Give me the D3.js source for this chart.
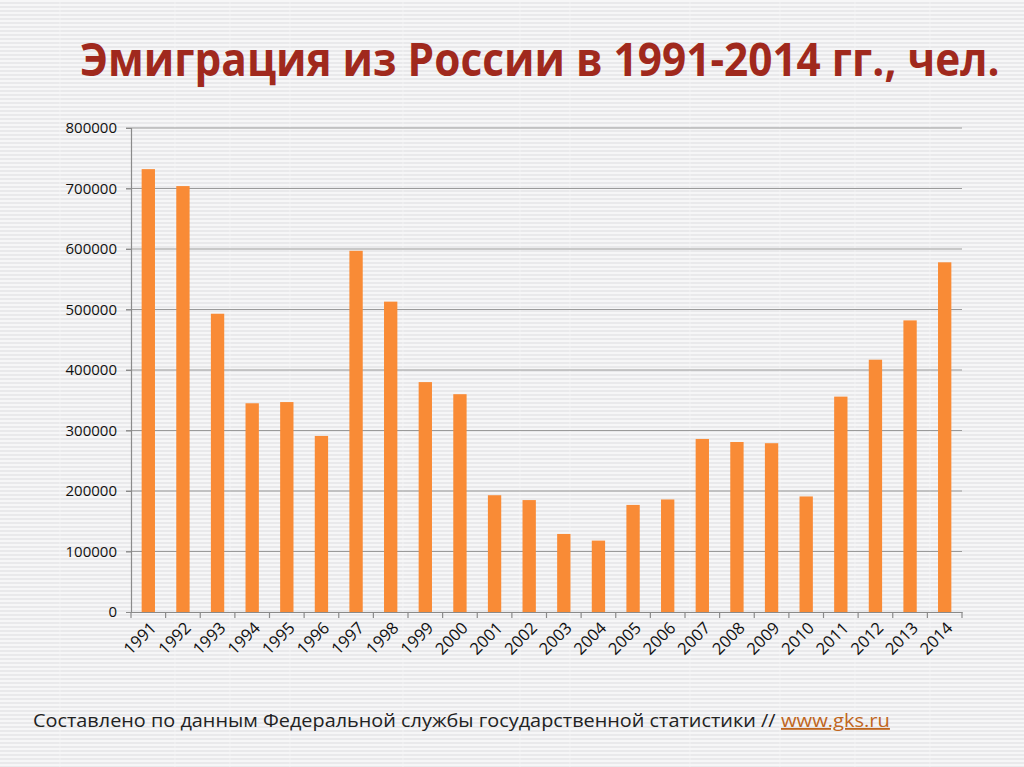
<!DOCTYPE html>
<html><head><meta charset="utf-8">
<script src="https://cdn.jsdelivr.net/npm/d3@7"></script>
<style>html,body{margin:0;padding:0;background:#efeff0;overflow:hidden}</style>
</head><body>
<script>
const years = ["1991","1992","1993","1994","1995","1996","1997","1998","1999","2000","2001","2002","2003","2004","2005","2006","2007","2008","2009","2010","2011","2012","2013","2014"];
const emigrants = [732000,704000,493000,345000,347000,291000,597000,513000,380000,360000,193000,185000,129000,118000,177000,186000,286000,281000,279000,191000,356000,417000,482000,578000];
const yTicks = [0,100000,200000,300000,400000,500000,600000,700000,800000];
const titleText = "Эмиграция из России в 1991-2014 гг., чел.";
const sourceText = "Составлено по данным Федеральной службы государственной статистики // ";
const sourceLink = "www.gks.ru";

const W = 1024, H = 767;
const svg = d3.select("body").append("svg").attr("width", W).attr("height", H);
const defs = svg.append("defs");
const pat = defs.append("pattern").attr("id","bg").attr("patternUnits","userSpaceOnUse").attr("width",8).attr("height",4);
pat.append("rect").attr("width",8).attr("height",4).attr("fill","#f6f6f7");
pat.append("rect").attr("y",2).attr("width",8).attr("height",2).attr("fill","#e9e9eb");
svg.append("rect").attr("width",W).attr("height",H).attr("fill","url(#bg)");
[60,175,230,290,403,520,570,690,780,855,930].forEach(x=>{
  svg.append("line").attr("x1",x).attr("x2",x).attr("y1",0).attr("y2",H).attr("stroke","#f8f8f8").attr("stroke-width",1).attr("opacity",0.7);
});

const m = {left:131, right:962, top:128, bottom:612};
const x = d3.scaleBand().domain(years).range([m.left, m.right]).paddingInner(0.615).paddingOuter(0.3075);
const y = d3.scaleLinear().domain([0,800000]).range([m.bottom, m.top]);

svg.append("g").selectAll("line").data(yTicks.filter(d=>d>0)).join("line")
  .attr("x1", m.left-5).attr("x2", m.right).attr("y1", d=>y(d)).attr("y2", d=>y(d))
  .attr("stroke","#9a9a9a").attr("stroke-width",1.2);

const yAxis = svg.append("g").attr("transform",`translate(${m.left},0)`)
  .call(d3.axisLeft(y).tickValues(yTicks).tickFormat(d3.format("d")).tickSize(5).tickPadding(9));
yAxis.select(".domain").attr("stroke","#8a8a8a").attr("stroke-width",1.2);
yAxis.selectAll(".tick line").attr("stroke","#8a8a8a");
yAxis.selectAll("text").attr("font-family","'Open Sans', sans-serif").attr("font-size",15).attr("fill","#111");

svg.append("g").selectAll("rect").data(years).join("rect")
  .attr("x", d=>x(d)).attr("width", x.bandwidth())
  .attr("y", (d,i)=>y(emigrants[i])).attr("height", (d,i)=>y(0)-y(emigrants[i]))
  .attr("fill","#f98b36");

const xAxis = svg.append("g").attr("transform",`translate(0,${m.bottom})`)
  .call(d3.axisBottom(x).tickSize(0).tickPadding(0));
xAxis.select(".domain").attr("stroke","#8a8a8a").attr("stroke-width",1.2);
const bounds = d3.range(years.length+1).map(i=>m.left + i*(m.right-m.left)/years.length);
xAxis.append("g").selectAll("line").data(bounds).join("line")
  .attr("x1",d=>d).attr("x2",d=>d).attr("y1",0).attr("y2",6).attr("stroke","#8a8a8a").attr("stroke-width",1.2);
xAxis.selectAll(".tick text")
  .attr("font-family","'Open Sans', sans-serif").attr("font-size",16.5).attr("fill","#111")
  .attr("text-anchor","end").attr("dy",0).attr("y",0)
  .attr("transform","translate(9,17) rotate(-45)");

function fitText(sel, width){
  const len = sel.node().getComputedTextLength();
  const sx = width/len;
  const tx = +sel.attr("data-x"), ty = +sel.attr("data-y");
  sel.attr("transform",`translate(${tx},${ty}) scale(${sx},1)`);
}

const title = svg.append("text").attr("data-x",80).attr("data-y",76)
  .attr("font-family","'Open Sans', sans-serif").attr("font-weight","bold").attr("font-size",47)
  .attr("fill","#a0291d").text(titleText);
fitText(title, 920);

const src = svg.append("text").attr("data-x",33).attr("data-y",727)
  .attr("font-family","'Open Sans', sans-serif").attr("font-size",18.5).attr("fill","#222")
  .text(sourceText);
fitText(src, 743);
const link = svg.append("text").attr("data-x",781).attr("data-y",727)
  .attr("font-family","'Open Sans', sans-serif").attr("font-size",18.5).attr("fill","#c0661e")
  .attr("text-decoration","underline").text(sourceLink);
fitText(link, 109);
</script>
</body></html>
